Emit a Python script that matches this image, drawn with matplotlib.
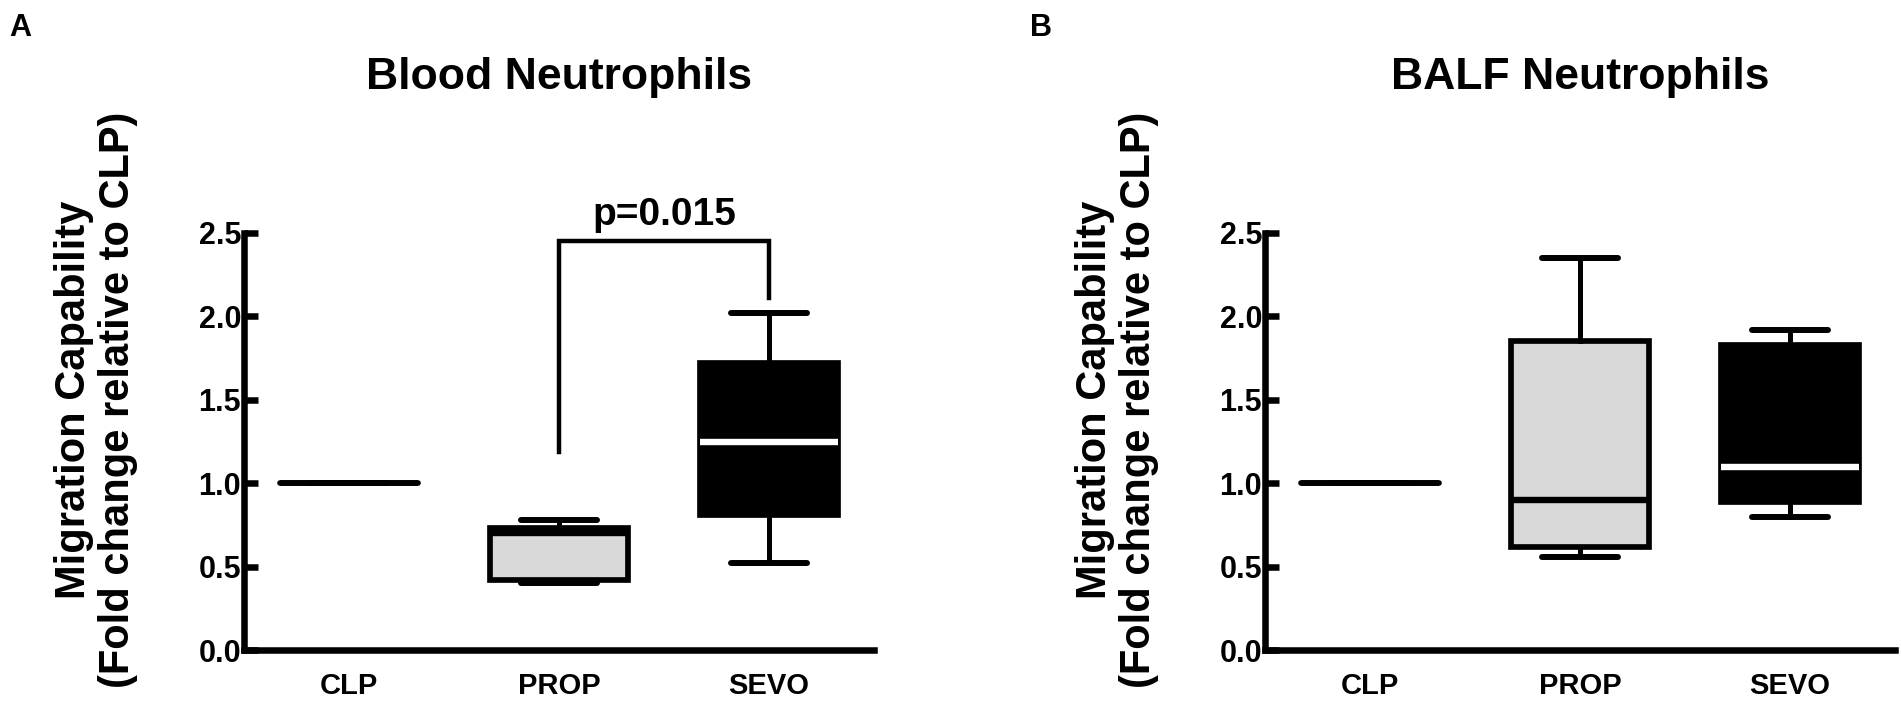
import matplotlib
matplotlib.use("Agg")
import matplotlib.pyplot as plt

# ---- data ----
categories = ["CLP", "PROP", "SEVO"]
titles = ["Blood Neutrophils", "BALF Neutrophils"]
panel_letters = ["A", "B"]
ylabel = "Migration Capability\n(Fold change relative to CLP)"
yticks = [0.0, 0.5, 1.0, 1.5, 2.0, 2.5]

# five-number summaries: whisker low, Q1, median, Q3, whisker high
blood_min = [1.00, 0.40, 0.52]
blood_q1 = [1.00, 0.42, 0.81]
blood_med = [1.00, 0.70, 1.25]
blood_q3 = [1.00, 0.73, 1.72]
blood_max = [1.00, 0.78, 2.02]

balf_min = [1.00, 0.56, 0.80]
balf_q1 = [1.00, 0.62, 0.89]
balf_med = [1.00, 0.90, 1.10]
balf_q3 = [1.00, 1.85, 1.83]
balf_max = [1.00, 2.35, 1.92]

pvalue_text = "p=0.015"

fills = ["white", "#d9d9d9", "black"]
median_colors = ["black", "black", "white"]

FONT = ["Liberation Sans Narrow", "Liberation Sans", "DejaVu Sans"]
plt.rcParams["font.family"] = FONT
plt.rcParams["font.weight"] = "bold"

fig = plt.figure(figsize=(19.01, 7.01), dpi=100)
W, H = 1901, 701
ax_w = 630 / W
ax_h = 417 / H
ax_b = (H - 650) / H
axA = fig.add_axes([244 / W, ax_b, ax_w, ax_h])
axB = fig.add_axes([1265 / W, ax_b, ax_w, ax_h])


def make_stats(mn, q1, med, q3, mx):
    out = []
    for i in range(len(categories)):
        out.append(dict(whislo=mn[i], q1=q1[i], med=med[i], q3=q3[i],
                        whishi=mx[i], fliers=[], label=categories[i]))
    return out


def draw(ax, stats, title):
    pos = list(range(1, len(categories) + 1))
    res = ax.bxp(stats, positions=pos, widths=0.66, capwidths=0.36,
                 patch_artist=True, showfliers=False,
                 boxprops=dict(linewidth=4.1, edgecolor="black"),
                 whiskerprops=dict(linewidth=3.6, color="black"),
                 capprops=dict(linewidth=4.3, color="black",
                               solid_capstyle="round"),
                 medianprops=dict(linewidth=4.6))
    for i, b in enumerate(res["boxes"]):
        b.set_facecolor(fills[i])
        b.set_edgecolor("black")
        b.set_joinstyle("miter")
    for i, m in enumerate(res["medians"]):
        m.set_color(median_colors[i])
        if i == 0:
            m.set_solid_capstyle("round")
            m.set_linewidth(4.1)
    ax.set_xlim(0.5, 3.5)
    ax.set_ylim(0, 2.5)
    ax.set_yticks(yticks)
    ax.set_yticklabels([f"{v:.1f}" for v in yticks])
    ax.set_xticks(pos)
    ax.set_xticklabels(categories)
    for s in ["top", "right"]:
        ax.spines[s].set_visible(False)
    for s in ["left", "bottom"]:
        ax.spines[s].set_linewidth(4.7)
    ax.tick_params(axis="y", direction="in", length=10, width=4.7,
                   labelsize=22, pad=2)
    ax.tick_params(axis="x", length=0, labelsize=21, pad=16)
    for lab in ax.get_xticklabels() + ax.get_yticklabels():
        lab.set_fontweight("bold")
    ax.set_ylabel(ylabel, fontsize=30, fontweight="bold", linespacing=1.15)
    ax.yaxis.set_label_coords(-0.168, 0.60)
    ax.set_title(title, fontsize=32, fontweight="bold", pad=104)


draw(axA, make_stats(blood_min, blood_q1, blood_med, blood_q3, blood_max), titles[0])
draw(axB, make_stats(balf_min, balf_q1, balf_med, balf_q3, balf_max), titles[1])

# significance bracket (panel A, PROP vs SEVO)
br_top = 2.45
axA.plot([2, 2, 3, 3], [1.19, br_top, br_top, 2.11], color="black",
         linewidth=3.2, clip_on=False, solid_joinstyle="miter")
axA.text(2.5, 2.55, pvalue_text, ha="center", va="baseline", fontsize=28,
         fontweight="bold", clip_on=False)

fig.text(9 / W, 1 - 13 / H, panel_letters[0], fontsize=22, fontweight="bold",
         va="top", ha="left", family=["Liberation Sans", "DejaVu Sans"])
fig.text(1030 / W, 1 - 13 / H, panel_letters[1], fontsize=22, fontweight="bold",
         va="top", ha="left", family=["Liberation Sans", "DejaVu Sans"])

fig.savefig("out.png", dpi=100)
